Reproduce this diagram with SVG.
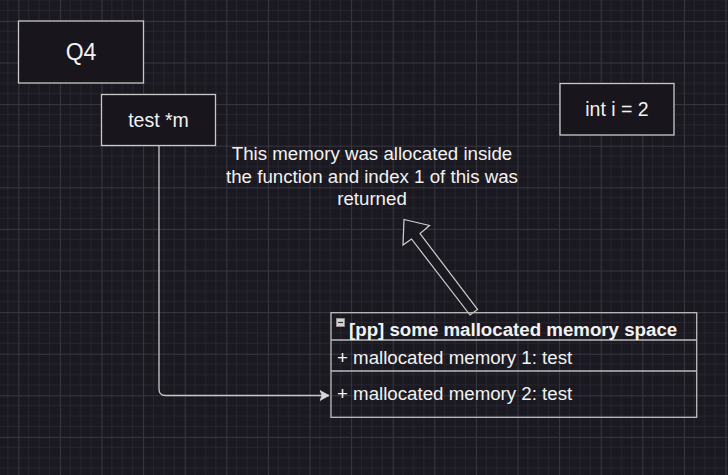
<svg xmlns="http://www.w3.org/2000/svg" width="728" height="475" viewBox="0 0 728 475">
  <style>
    .box { fill: #18151d; stroke: #c8c8c8; stroke-width: 1.3; }
    .lbl { fill: #f2f2f2; font-family: "Liberation Sans", Arial, sans-serif; text-anchor: middle; }
    .txt { fill: #f2f2f2; font-family: "Liberation Sans", Arial, sans-serif; font-size: 18.7px; }
    .line { fill: none; stroke: #c8c8c8; stroke-width: 1.3; }
  </style>
  <defs>
    <pattern id="grid" patternUnits="userSpaceOnUse" x="18.3" y="20.9" width="41.6" height="41.6">
      <g stroke="#27252c" stroke-width="1">
        <line x1="10.4" y1="0" x2="10.4" y2="41.6"/>
        <line x1="20.8" y1="0" x2="20.8" y2="41.6"/>
        <line x1="31.2" y1="0" x2="31.2" y2="41.6"/>
        <line x1="0" y1="10.4" x2="41.6" y2="10.4"/>
        <line x1="0" y1="20.8" x2="41.6" y2="20.8"/>
        <line x1="0" y1="31.2" x2="41.6" y2="31.2"/>
      </g>
      <g stroke="#3a383f" stroke-width="1">
        <line x1="0.5" y1="0" x2="0.5" y2="41.6"/>
        <line x1="0" y1="0.5" x2="41.6" y2="0.5"/>
      </g>
    </pattern>
    <marker id="arr" markerUnits="userSpaceOnUse" markerWidth="12" markerHeight="12" refX="9" refY="5" orient="auto" viewBox="0 0 12 10">
      <path d="M0,0 L9,5 L0,10 L2.2,5 Z" fill="#d8d8d8" stroke="#d8d8d8" stroke-width="0.8"/>
    </marker>
  </defs>
  <rect width="728" height="475" fill="#1a1820"/>
  <rect width="728" height="475" fill="url(#grid)"/>

  <g id="connectors">
    <path class="line" d="M159,146 L159,389 Q159,395.5 165.5,395.5 L329,395.5" marker-end="url(#arr)"/>
  </g>

  <g id="q4">
    <rect class="box" x="18.5" y="21" width="125" height="62"/>
    <text class="lbl" x="81" y="60" font-size="23">Q4</text>
  </g>

  <g id="test-m">
    <rect class="box" x="101.5" y="94.5" width="114" height="51"/>
    <text class="lbl" x="158.5" y="127" font-size="19.5">test *m</text>
  </g>

  <g id="int-i">
    <rect class="box" x="560" y="83.5" width="114" height="51.5"/>
    <text class="lbl" x="617" y="116" font-size="19.5">int i = 2</text>
  </g>

  <g id="note">
    <text class="txt" text-anchor="middle" x="372" y="160">This memory was allocated inside</text>
    <text class="txt" text-anchor="middle" x="372" y="182.5">the function and index 1 of this was</text>
    <text class="txt" text-anchor="middle" x="372" y="205">returned</text>
  </g>

  <g id="block-arrow">
    <polygon points="404,219.5 429.5,225.5 420,233.5 477.5,309.5 470,315 411.5,239 403,245" fill="#1a1820" stroke="#d0d0d0" stroke-width="1.2" stroke-linejoin="miter"/>
  </g>

  <g id="memory-class">
    <rect x="331" y="312.7" width="365.7" height="104.6" fill="none" stroke="#bdbdbd" stroke-width="1.3"/>
    <line x1="331" y1="340" x2="696.7" y2="340" stroke="#bdbdbd" stroke-width="1.3"/>
    <line x1="331" y1="371" x2="696.7" y2="371" stroke="#bdbdbd" stroke-width="1.3"/>
    <rect x="336.5" y="318.5" width="8" height="8" fill="#d4d4d4" stroke="#9a9a9a" stroke-width="0.8"/>
    <line x1="338" y1="322.5" x2="343" y2="322.5" stroke="#333" stroke-width="1.2"/>
    <text class="txt" x="349" y="336" font-weight="bold">[pp] some mallocated memory space</text>
    <text class="txt" x="337" y="363.5">+ mallocated memory 1: test</text>
    <text class="txt" x="337" y="399.5">+ mallocated memory 2: test</text>
  </g>
</svg>
